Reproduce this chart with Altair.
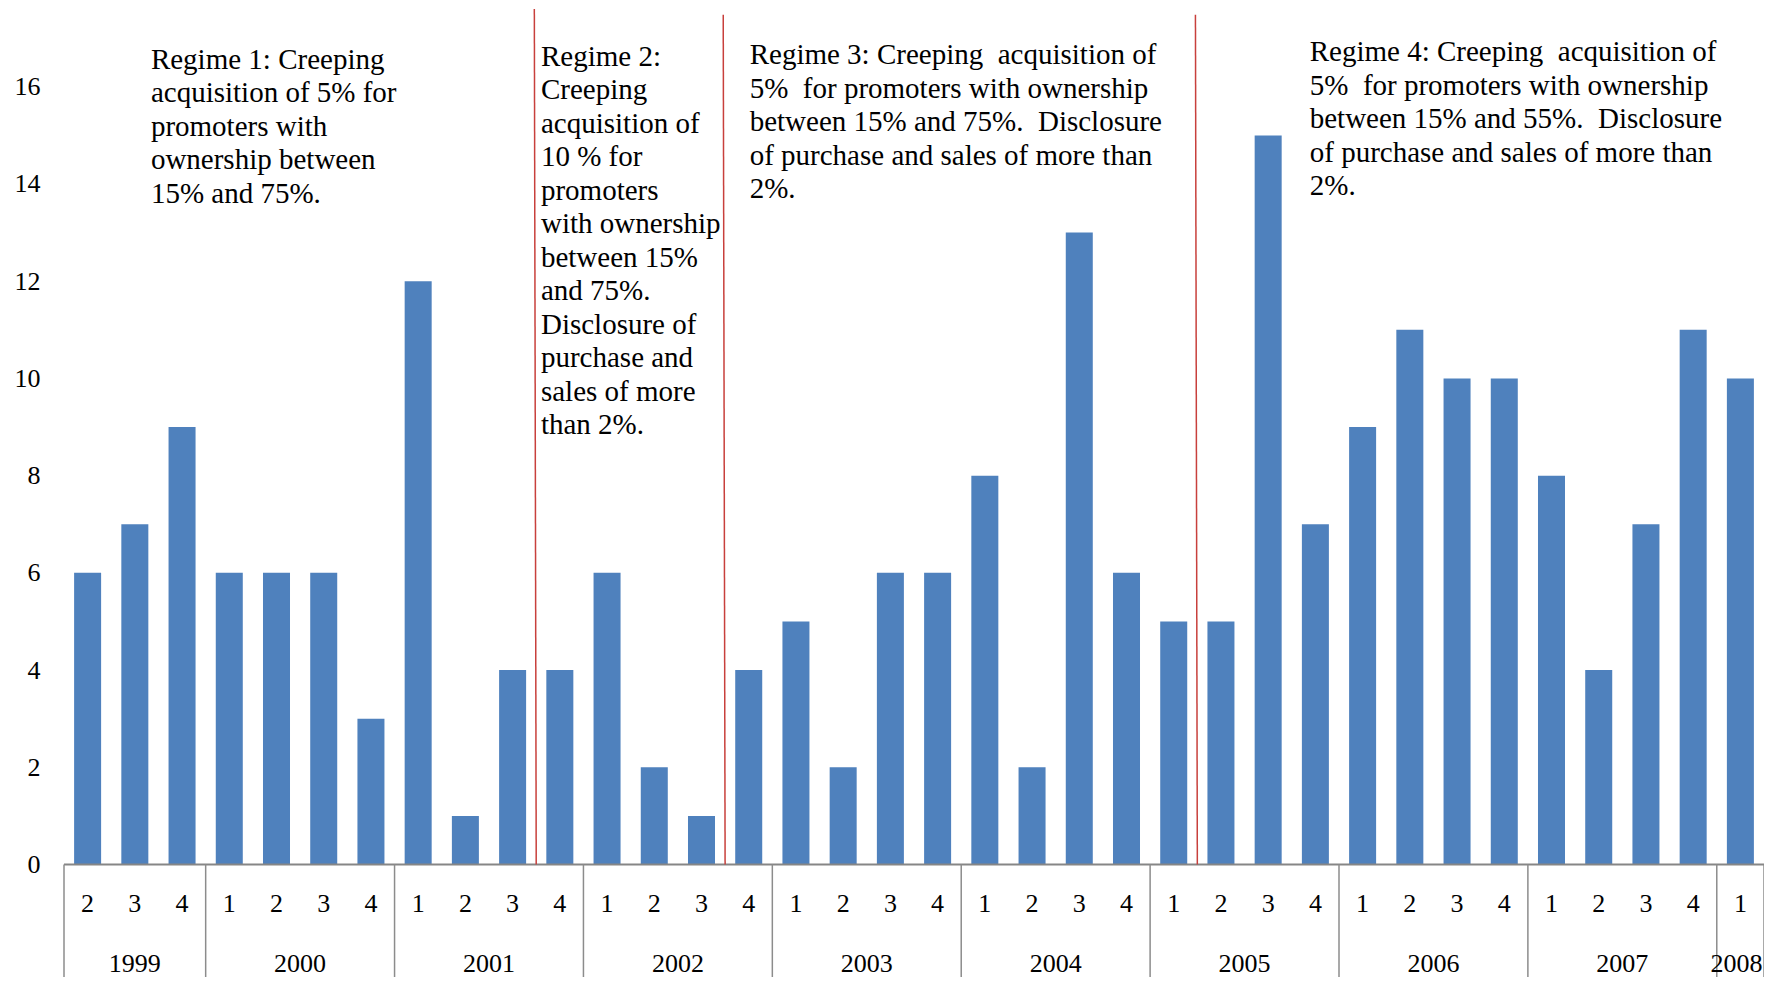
import altair as alt
import pandas as pd

# ---- data ----
quarters = [2, 3, 4,
            1, 2, 3, 4,
            1, 2, 3, 4,
            1, 2, 3, 4,
            1, 2, 3, 4,
            1, 2, 3, 4,
            1, 2, 3, 4,
            1, 2, 3, 4,
            1, 2, 3, 4,
            1]
years = ([1999] * 3 + [2000] * 4 + [2001] * 4 + [2002] * 4 + [2003] * 4 +
         [2004] * 4 + [2005] * 4 + [2006] * 4 + [2007] * 4 + [2008])
counts = [6, 7, 9,
          6, 6, 6, 3,
          12, 1, 4, 4,
          6, 2, 1, 4,
          5, 2, 6, 6,
          8, 2, 13, 6,
          5, 5, 15, 7,
          9, 11, 10, 10,
          8, 4, 7, 11,
          10]

# regime boundaries (in quarter-index units) and annotation texts
regime_bounds = [10, 14, 24]
NB = "\u00a0"
regime_texts = [
    ["Regime 1: Creeping", "acquisition of 5% for", "promoters with",
     "ownership between", "15% and 75%."],
    ["Regime 2:", "Creeping", "acquisition of", "10 % for", "promoters",
     "with ownership", "between 15%", "and 75%.", "Disclosure of",
     "purchase and", "sales of more", "than 2%."],
    [f"Regime 3: Creeping{NB} acquisition of", f"5%{NB} for promoters with ownership",
     f"between 15% and 75%.{NB} Disclosure", "of purchase and sales of more than",
     "2%."],
    [f"Regime 4: Creeping{NB} acquisition of", f"5%{NB} for promoters with ownership",
     f"between 15% and 55%.{NB} Disclosure", "of purchase and sales of more than",
     "2%."],
]

# ---- layout ----
W, H = 1700, 855.5
YMAX = 17.6
N = len(counts)
FONT = "Liberation Serif"

df = pd.DataFrame({"idx": list(range(N)), "quarter": quarters,
                   "year": years, "count": counts})
one = pd.DataFrame({"k": [0]})
yr = df.groupby("year")["idx"].agg(["min", "max"]).reset_index()
yr["start"] = yr["min"]
yr["end"] = yr["max"] + 1
yr["mid"] = (yr["start"] + yr["end"]) / 2
seps = pd.DataFrame({"pos": list(yr["start"]) + [N]})

xs = alt.Scale(domain=[0, N], nice=False, zero=False)
ys = alt.Scale(domain=[0, YMAX], nice=False)

bars = alt.Chart(df).transform_calculate(
    x0="datum.idx + 0.214", x1="datum.idx + 0.786"
).mark_rect(color="#4F81BD").encode(
    x=alt.X("x0:Q", scale=xs, axis=None),
    x2="x1:Q",
    y=alt.Y("count:Q", scale=ys,
            axis=alt.Axis(values=list(range(0, 17, 2)), grid=False,
                          domain=False, ticks=False, labelPadding=24,
                          labelFont=FONT, labelFontSize=26,
                          labelColor="black", title=None)),
    y2=alt.datum(0),
)

axis_line = alt.Chart(one).mark_rule(color="#868686", strokeWidth=2).encode(
    x=alt.datum(0, scale=xs), x2=alt.datum(N), y=alt.value(H)
)

sep_rules = alt.Chart(seps).mark_rule(color="#8C8C8C", strokeWidth=1.5).encode(
    x=alt.X("pos:Q", scale=xs), y=alt.value(H), y2=alt.value(H + 140)
)

q_labels = alt.Chart(df).transform_calculate(xc="datum.idx + 0.5").mark_text(
    font=FONT, fontSize=26, baseline="middle", color="black"
).encode(x=alt.X("xc:Q", scale=xs), y=alt.value(H + 39.5), text="quarter:N")

y_labels = alt.Chart(yr).transform_calculate(
    xl=f"min(datum.mid, {N} - 0.58)"
).mark_text(
    font=FONT, fontSize=26, baseline="middle", color="black"
).encode(x=alt.X("xl:Q", scale=xs), y=alt.value(H + 99.5), text="year:N")

bdf = pd.DataFrame({"b": regime_bounds, "top": [17.6, 17.48, 17.48]})
red_lines = alt.Chart(bdf).transform_calculate(
    bt="datum.b - 0.04"
).mark_rule(color="#C8403C", strokeWidth=1.5).encode(
    x=alt.X("bt:Q", scale=xs), x2="b:Q",
    y=alt.Y("top:Q", scale=ys), y2=alt.datum(0)
)

ann_pos = [(1.84, 16.84), (10.10, 16.905), (14.52, 16.94), (26.38, 17.0)]
annots = []
for (ax, ay), lines in zip(ann_pos, regime_texts):
    annots.append(
        alt.Chart(one).mark_text(
            font=FONT, fontSize=29, align="left", baseline="top",
            lineHeight=33.5, color="black"
        ).encode(x=alt.datum(ax, scale=xs), y=alt.datum(ay, scale=ys),
                 text=alt.value(lines))
    )

chart = alt.layer(
    bars, axis_line, sep_rules, q_labels, y_labels, red_lines, *annots
).properties(
    width=W, height=H,
    autosize=alt.AutoSizeParams(type="none"),
    padding={"left": 56, "top": 1, "right": 0, "bottom": 112.5},
).configure(background="white").configure_view(strokeWidth=0, stroke="transparent")

chart.save("out.html", embed_options={"renderer": "svg", "actions": False})
